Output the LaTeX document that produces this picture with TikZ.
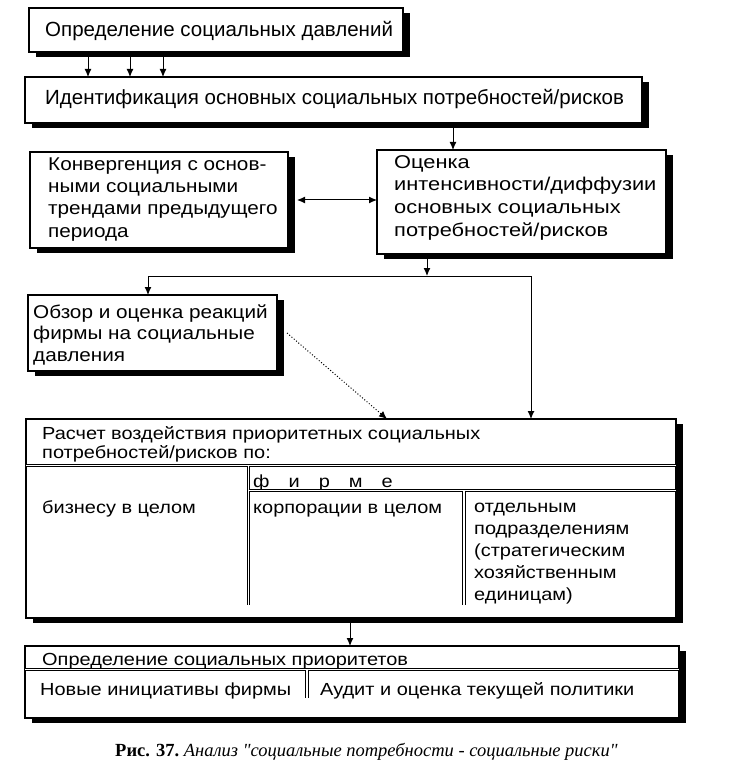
\documentclass[tikz,border=0pt]{standalone}
\usepackage{fontspec}
\setmainfont{Liberation Sans}
\newfontfamily\widefont[FakeStretch=1.12]{Liberation Sans}
\newfontfamily\widerfont[FakeStretch=1.14]{Liberation Sans}
\newfontfamily\widestfont[FakeStretch=1.18]{Liberation Sans}
\newfontfamily\capfont{Liberation Serif}
\usetikzlibrary{arrows.meta,shadows}
\begin{document}
\begin{tikzpicture}[x=1pt,y=-1pt,
  box/.style={draw, line width=1.2pt, fill=white, anchor=north west, inner sep=0pt, outer sep=0pt,
    drop shadow={shadow xshift=7pt, shadow yshift=-5pt, opacity=1, fill=black}},
  txt/.style={anchor=base west, inner sep=0pt},
  ml/.style={anchor=north west, inner sep=0pt, align=left},
  bigf/.style={font=\fontsize{20.5}{22}\selectfont},
  midf/.style={font=\widefont\fontsize{18.5}{22.4}\selectfont},
  lowf/.style={font=\widerfont\fontsize{17.5}{19}\selectfont},
  arr/.style={-{Latex[length=8pt,width=7pt]}, line width=1pt},
  dbl/.style={double, double distance=1.8pt, line width=0.8pt}
]
\fill[white] (0,0) rectangle (728,783);
\useasboundingbox (0,0) rectangle (728,783);

% boxes
\node[box, minimum width=374pt, minimum height=44pt] (b1) at (29,8) {};
\node[box, minimum width=617pt, minimum height=46pt] (b2) at (25,77) {};
\node[box, minimum width=258pt, minimum height=96pt] (b3) at (30,152) {};
\node[box, minimum width=289pt, minimum height=104pt] (b4) at (377,150) {};
\node[box, minimum width=249pt, minimum height=76pt] (b5) at (28,295) {};
\node[box, minimum width=650pt, minimum height=199pt] (b6) at (26,419) {};
\node[box, minimum width=654pt, minimum height=72pt] (b7) at (25,646) {};

% texts
\node[txt, bigf] (t1) at (45,37) {Определение социальных давлений};
\node[txt, bigf] (t2) at (45,105) {Идентификация основных социальных потребностей/рисков};
\node[ml, midf] (t3) at (48,154.3) {\strut Конвергенция с основ-\\ными социальными\\трендами предыдущего\\периода};
\node[ml, midf, font=\widestfont\fontsize{18.5}{22.7}\selectfont] (t4) at (394,152.1) {\strut Оценка\\интенсивности/диффузии\\основных социальных\\потребностей/рисков};
\node[ml, midf, font=\widefont\fontsize{18.5}{21.5}\selectfont] (t5) at (33,303) {\strut Обзор и оценка реакций\\фирмы на социальные\\давления};
\node[ml, lowf] (t6) at (42,425.7) {\strut Расчет воздействия приоритетных социальных\\потребностей/рисков по:};
\node[txt, lowf] (t6f) at (253,487) {\spaceskip=19pt ф и р м е};
\node[txt, lowf] (t6a) at (42,513) {бизнесу в целом};
\node[txt, lowf] (t6b) at (253,513) {корпорации в целом};
\node[ml, lowf, font=\widerfont\fontsize{17.5}{22}\selectfont] (t6c) at (474,496.6) {\strut отдельным\\подразделениям\\(стратегическим\\хозяйственным\\единицам)};
\node[txt, lowf] (t7) at (42,665) {Определение социальных приоритетов};
\node[txt, lowf] (t7a) at (40,695) {Новые инициативы фирмы};
\node[txt, lowf] (t7b) at (320,695) {Аудит и оценка текущей политики};
\node[txt, font=\capfont\fontsize{18.5}{21}\selectfont] (cap) at (115,756) {\textbf{Рис. 37.}\ \textit{Анализ "социальные потребности - социальные риски"}};

% inner rules of the calculation box
\draw[dbl] (26,465.5) -- (676,465.5);
\draw[dbl] (248.5,465.5) -- (248.5,605);
\draw[dbl] (248.5,490.5) -- (676,490.5);
\draw[dbl] (464,490.5) -- (464,605);
% inner rules of the priorities box
\draw[dbl] (25,669.5) -- (679,669.5);
\draw[dbl] (307,669.5) -- (307,698);

% connectors
\draw[arr] (88,0 |- b1.south) -- (88,0 |- b2.north);
\draw[arr] (130,0 |- b1.south) -- (130,0 |- b2.north);
\draw[arr] (163,0 |- b1.south) -- (163,0 |- b2.north);
\draw[arr] (453,0 |- b2.south) -- (453,0 |- b4.north);
\draw[{Latex[length=8pt,width=7pt]}-{Latex[length=8pt,width=7pt]}, line width=1pt] ([xshift=9pt]b3.east) -- (b4.west |- b3.east);
\coordinate (j) at (427,276);
\coordinate (jl) at (148,276);
\coordinate (jr) at (531,276);
\draw[arr] (j |- b4.south) -- (j);
\draw[line width=1pt] (jl) -- (jr);
\draw[arr] (jl) -- (jl |- b5.north);
\draw[arr] (jr) -- (jr |- b6.north);
\draw[arr, dotted] ([xshift=10pt]b5.east) -- (387,0 |- b6.north);
\draw[arr] (350,0 |- b6.south) -- (350,0 |- b7.north);
\end{tikzpicture}
\end{document}
